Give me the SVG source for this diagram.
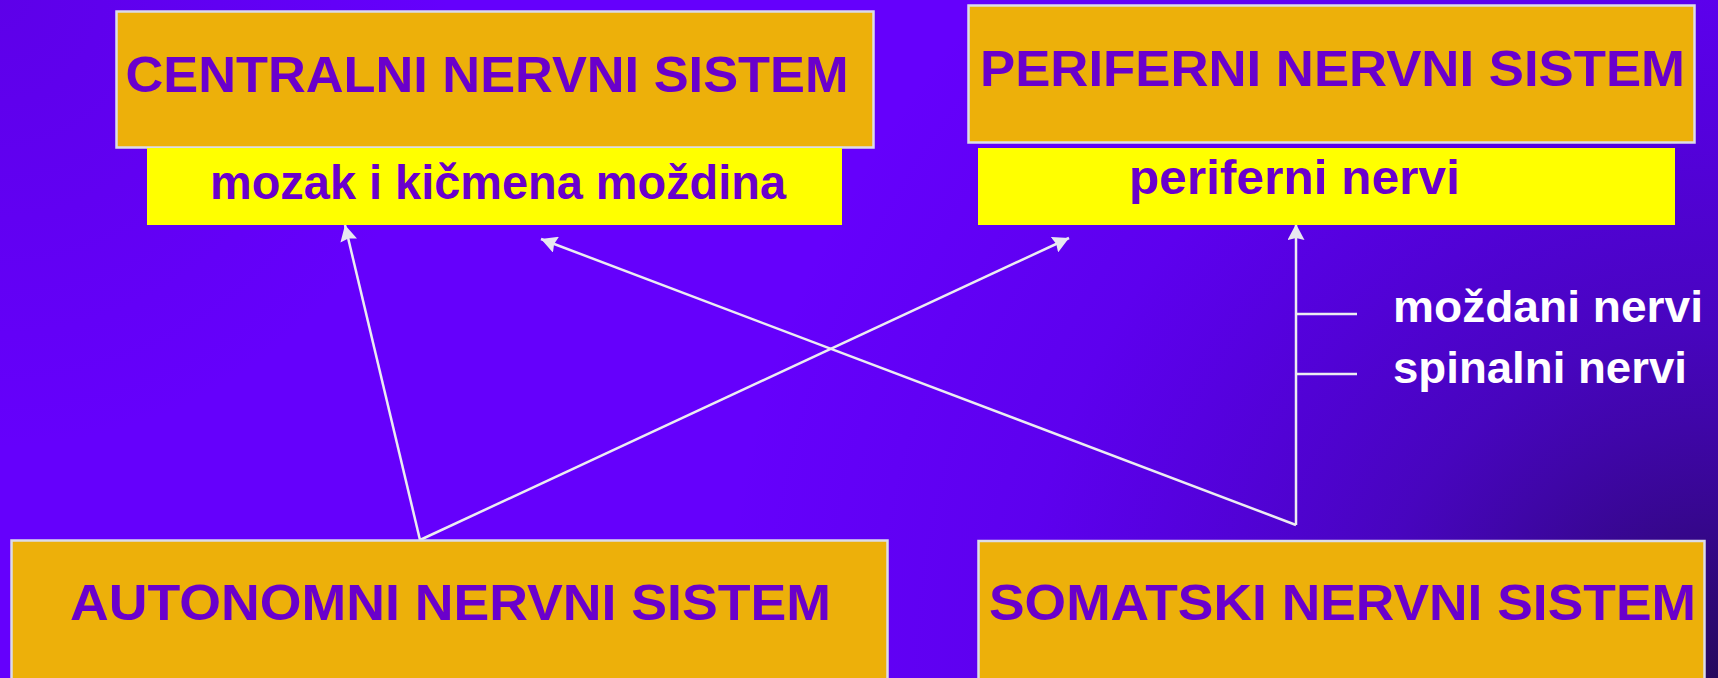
<svg xmlns="http://www.w3.org/2000/svg" width="1718" height="678" viewBox="0 0 1718 678">
  <defs>
    <radialGradient id="darkBR" gradientUnits="userSpaceOnUse" cx="1718" cy="678" r="1000">
      <stop offset="0" stop-color="#1a0a40" stop-opacity="0.85"/>
      <stop offset="0.35" stop-color="#2a0a80" stop-opacity="0.5"/>
      <stop offset="0.7" stop-color="#3000a0" stop-opacity="0.15"/>
      <stop offset="1" stop-color="#3000a0" stop-opacity="0"/>
    </radialGradient>
    <radialGradient id="darkTL" gradientUnits="userSpaceOnUse" cx="0" cy="0" r="450">
      <stop offset="0" stop-color="#3a0090" stop-opacity="0.18"/>
      <stop offset="1" stop-color="#3a0090" stop-opacity="0"/>
    </radialGradient>
    <marker id="arrow" viewBox="0 0 16 17" refX="16" refY="8.5" markerWidth="16" markerHeight="17" markerUnits="userSpaceOnUse" orient="auto">
      <path d="M0,0 L16,8.5 L0,17 L2,8.5 z" fill="#e8e8f0"/>
    </marker>
    <style>
      .box { fill: #edb00a; stroke: #dcdce8; stroke-width: 2.5; }
      .sub { fill: #ffff00; }
      .title { font-family: "Liberation Sans", Arial, sans-serif; font-weight: bold; font-size: 50px; fill: #6a00cc; }
      .subt { font-family: "Liberation Sans", Arial, sans-serif; font-weight: bold; font-size: 48px; fill: #6a00cc; }
      .lbl { font-family: "Liberation Sans", Arial, sans-serif; font-weight: bold; font-size: 44px; fill: #ffffff; }
      .conn { stroke: #ececf2; stroke-width: 2.5; fill: none; }
    </style>
  </defs>

  <rect x="0" y="0" width="1718" height="678" fill="#6500fc"/>
  <rect x="0" y="0" width="1718" height="678" fill="url(#darkBR)"/>
  <rect x="0" y="0" width="1718" height="678" fill="url(#darkTL)"/>

  <g id="connectors">
    <line class="conn" x1="420" y1="540" x2="345" y2="225" marker-end="url(#arrow)"/>
    <line class="conn" x1="420" y1="540" x2="1069" y2="238" marker-end="url(#arrow)"/>
    <line class="conn" x1="1296" y1="525" x2="541" y2="239" marker-end="url(#arrow)"/>
    <line class="conn" x1="1296" y1="525" x2="1296" y2="224" marker-end="url(#arrow)"/>
    <line class="conn" x1="1296" y1="314" x2="1357" y2="314"/>
    <line class="conn" x1="1296" y1="374" x2="1357" y2="374"/>
  </g>

  <g id="cns">
    <rect class="box" x="116.5" y="11.5" width="757" height="136"/>
    <text class="title" x="125.5" y="92" textLength="723" lengthAdjust="spacingAndGlyphs">CENTRALNI NERVNI SISTEM</text>
  </g>
  <g id="cns-sub">
    <rect class="sub" x="147" y="148" width="695" height="77"/>
    <text class="subt" x="210" y="199" textLength="576" lengthAdjust="spacingAndGlyphs">mozak i kičmena moždina</text>
  </g>

  <g id="pns">
    <rect class="box" x="968.5" y="5.5" width="726" height="137"/>
    <text class="title" x="980" y="86" textLength="705" lengthAdjust="spacingAndGlyphs">PERIFERNI NERVNI SISTEM</text>
  </g>
  <g id="pns-sub">
    <rect class="sub" x="978" y="148" width="697" height="77"/>
    <text class="subt" x="1129" y="194" textLength="331" lengthAdjust="spacingAndGlyphs">periferni nervi</text>
  </g>

  <g id="ans">
    <rect class="box" x="11.5" y="540.5" width="876" height="145"/>
    <text class="title" x="70" y="620" textLength="761" lengthAdjust="spacingAndGlyphs">AUTONOMNI NERVNI SISTEM</text>
  </g>

  <g id="sns">
    <rect class="box" x="978.5" y="541" width="726" height="145"/>
    <text class="title" x="989" y="620" textLength="707" lengthAdjust="spacingAndGlyphs">SOMATSKI NERVNI SISTEM</text>
  </g>

  <g id="labels">
    <text class="lbl" x="1393" y="322" textLength="310" lengthAdjust="spacingAndGlyphs">moždani nervi</text>
    <text class="lbl" x="1393" y="383" textLength="294" lengthAdjust="spacingAndGlyphs">spinalni nervi</text>
  </g>
</svg>
